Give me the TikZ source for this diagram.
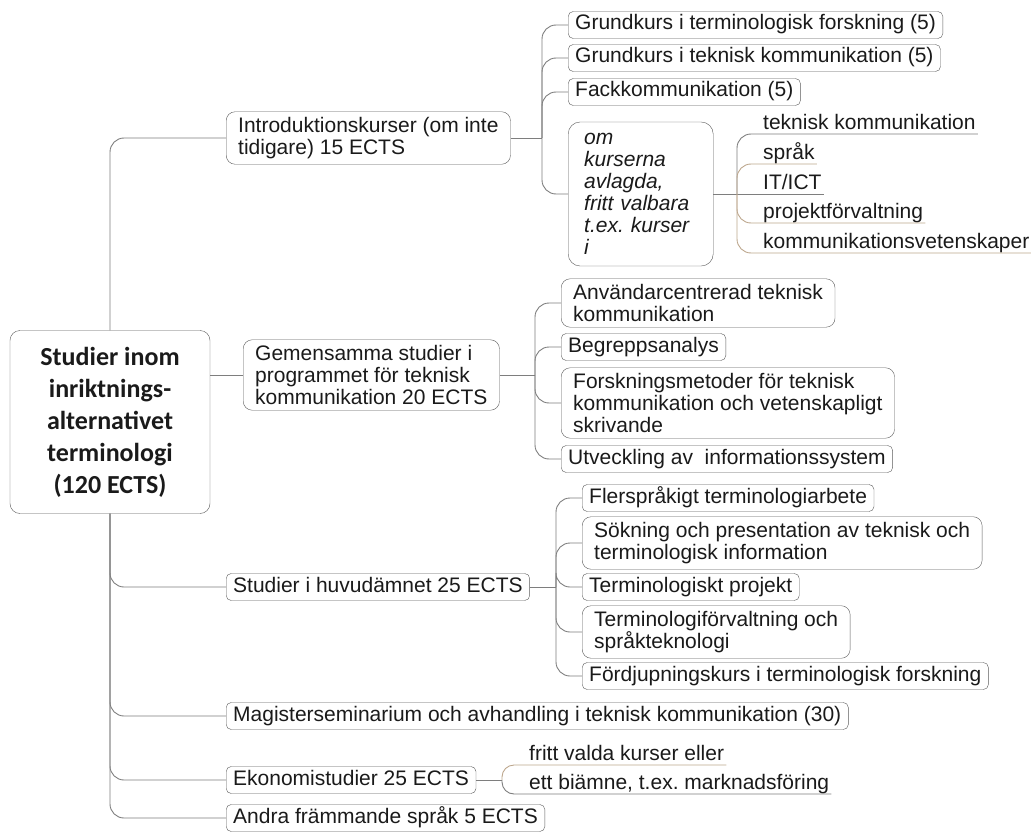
\documentclass[tikz,border=0pt]{standalone}
\usepackage{fontspec}
\setmainfont{Liberation Sans}
\newfontfamily\rootfont{Carlito}
\frenchspacing
\definecolor{boxline}{HTML}{5A5A5A}
\definecolor{connline}{HTML}{7E7E7E}
\definecolor{leafline}{HTML}{BCA68C}
\definecolor{ink}{HTML}{1A1A1A}

\begin{document}
\begin{tikzpicture}[x=1pt,y=-1pt,text=ink,
  box/.style={draw=boxline,rounded corners=5pt,anchor=west,inner xsep=7pt,inner ysep=3.5pt,
    text height=15pt,text depth=5pt,font=\fontsize{21}{22}\selectfont},
  mbox/.style={draw=boxline,rounded corners=9pt,anchor=west,inner xsep=12pt,inner ysep=5.5pt,
    align=left,font=\fontsize{21}{22}\selectfont},
  leaf/.style={anchor=south west,inner xsep=2pt,inner ysep=1pt,
    text height=15pt,text depth=3.5pt,font=\fontsize{21}{22}\selectfont},
  conn/.style={draw=connline,line width=0.9pt,rounded corners=14pt},
  leafconn/.style={conn,draw=leafline}]
\useasboundingbox (0,0) rectangle (1031,832);

\node[draw=boxline,rounded corners=10pt,minimum width=200pt,minimum height=183pt,align=center,
  font=\rootfont\fontsize{26}{32}\bfseries\selectfont] (root) at (110,422)
  {Studier inom\\inriktnings-\\alternativet\\terminologi\\(120 ECTS)};

\node[mbox] (intro) at (226,138) {Introduktionskurser (om inte\\tidigare) 15 ECTS};
\node[mbox] (gem) at (243,375) {Gemensamma studier i\\programmet för teknisk\\kommunikation 20 ECTS};
\node[box] (huvud) at (226,587) {Studier i huvudämnet 25 ECTS};
\node[box] (mag) at (226,716) {Magisterseminarium och avhandling i teknisk kommunikation (30)};
\node[box] (eko) at (226,780) {Ekonomistudier 25 ECTS};
\node[box] (andra) at (226,818) {Andra främmande språk 5 ECTS};

\draw[conn] (root.north) |- (intro.west);
\draw[conn] (root.east |- gem.west) -- (gem.west);
\foreach \n in {huvud,mag,eko,andra}
  \draw[conn] (root.south) |- (\n.west);

\node[box] (grterm) at (568,25) {Grundkurs i terminologisk forskning (5)};
\node[box] (grtek) at (568,58) {Grundkurs i teknisk kommunikation (5)};
\node[box] (fack) at (568,92) {Fackkommunikation (5)};
\node[mbox,rounded corners=12pt,inner xsep=16pt,inner ysep=6pt,text width=113pt,minimum height=144pt,
  font=\itshape\fontsize{21}{22}\selectfont] (om) at (568,194)
  {om\\kurserna\\avlagda,\\fritt valbara\\t.ex. kurser\\i};

\coordinate (ia) at (542,138);
\draw[conn] (intro) -- (ia);
\foreach \n in {grterm,grtek,fack,om}
  \draw[conn] (ia) |- (\n.west);

\node[leaf] (tekkom) at (761,134) {teknisk kommunikation};
\node[leaf] (sprak) at (761,164) {språk};
\node[leaf] (it) at (761,194) {IT/ICT};
\node[leaf] (projf) at (761,223) {projektförvaltning};
\node[leaf] (komvet) at (761,253) {kommunikationsvetenskaper};

\coordinate (oa) at (737,194);
\draw[conn] (om.east) -- (it.south east);
\draw[conn] (oa) |- (tekkom.south east);
\foreach \n in {sprak,projf,komvet}
  \draw[leafconn] (oa) |- (\n.south east);

\node[mbox] (anv) at (561,303) {Användarcentrerad teknisk\\kommunikation};
\node[box] (begr) at (561,347) {Begreppsanalys};
\node[mbox] (forsk) at (561,403) {Forskningsmetoder för teknisk\\kommunikation och vetenskapligt\\skrivande};
\node[box] (utv) at (561,459) {Utveckling av\ \ informationssystem};

\coordinate (ga) at (535,375);
\draw[conn] (gem) -- (ga);
\foreach \n in {anv,begr,forsk,utv}
  \draw[conn] (ga) |- (\n.west);

\node[box] (fler) at (582,498) {Flerspråkigt terminologiarbete};
\node[mbox] (sok) at (582,543) {Sökning och presentation av teknisk och\\terminologisk information};
\node[box] (tproj) at (582,587) {Terminologiskt projekt};
\node[mbox] (tforv) at (582,632) {Terminologiförvaltning och\\språkteknologi};
\node[box] (fordj) at (582,676) {Fördjupningskurs i terminologisk forskning};

\coordinate (ha) at (556,587);
\draw[conn] (huvud) -- (ha);
\foreach \n in {fler,sok,tproj,tforv,fordj}
  \draw[conn] (ha) |- (\n.west);

\node[leaf] (fritt) at (527,765) {fritt valda kurser eller};
\node[leaf] (biamne) at (527,794) {ett biämne, t.ex. marknadsföring};

\coordinate (ea) at (502,780);
\draw[conn] (eko) -- (ea);
\draw[leafconn,rounded corners=12pt] (ea) |- (fritt.south east);
\draw[conn,rounded corners=12pt] (ea) |- (biamne.south east);
\end{tikzpicture}
\end{document}
